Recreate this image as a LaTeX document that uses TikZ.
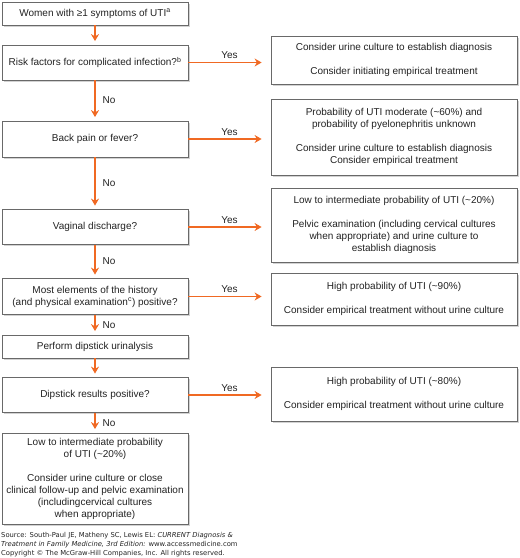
\documentclass[tikz,border=0pt]{standalone}
\usepackage{fontspec}
\setmainfont{Liberation Sans}
\newfontfamily\srcfont{DejaVu Sans}
\usetikzlibrary{arrows.meta,shadows}
\definecolor{arr}{RGB}{240,105,35}
\definecolor{bord}{RGB}{105,105,105}
\definecolor{txt}{RGB}{35,35,35}
\begin{document}
\begin{tikzpicture}[x=1pt,y=-1pt,
  box/.style={draw=bord, line width=0.8pt, fill=white, align=center, inner sep=0pt,
    font=\fontsize{10}{12}\selectfont, text=txt,
    drop shadow={shadow xshift=1.8pt, shadow yshift=-1.8pt, fill=gray!35, opacity=1}},
  lbox/.style={box, minimum width=186pt},
  rbox/.style={box, minimum width=246pt},
  flow/.style={draw=arr, line width=1.3pt, -{Stealth[length=7pt,width=8pt]}},
  lab/.style={font=\fontsize{10}{12}\selectfont, text=txt, inner sep=1pt}
]
\useasboundingbox (0,0) rectangle (520,558);

% left column
\node[lbox, minimum height=23pt] (L1) at (95,13.5) {Women with ≥1 symptoms of UTI\textsuperscript{a}};
\node[lbox, minimum height=35pt] (L2) at (95,62.5) {Risk factors for complicated infection?\textsuperscript{b}};
\node[lbox, minimum height=36pt] (L3) at (95,139) {Back pain or fever?};
\node[lbox, minimum height=35pt] (L4) at (95,227) {Vaginal discharge?};
\node[lbox, minimum height=36pt] (L5) at (95,296.5) {Most elements of the history\\(and physical examination\textsuperscript{c}) positive?};
\node[lbox, minimum height=23pt] (L6) at (95,346.5) {Perform dipstick urinalysis};
\node[lbox, minimum height=35pt] (L7) at (95,395) {Dipstick results positive?};
\node[lbox, minimum height=91pt] (L8) at (95,478.5) {Low to intermediate probability\\of UTI (\textasciitilde20\%)\\[12pt]Consider urine culture or close\\clinical follow-up and pelvic examination\\(includingcervical cultures\\when appropriate)};

% right column
\node[rbox, minimum height=48pt] (R1) at (394,60) {Consider urine culture to establish diagnosis\\[12pt]Consider initiating empirical treatment};
\node[rbox, minimum height=76pt] (R2) at (394,137) {Probability of UTI moderate (\textasciitilde60\%) and\\probability of pyelonephritis unknown\\[12pt]Consider urine culture to establish diagnosis\\Consider empirical treatment};
\node[rbox, minimum height=74pt] (R3) at (394,225) {Low to intermediate probability of UTI (\textasciitilde20\%)\\[12pt]Pelvic examination (including cervical cultures\\when appropriate) and urine culture to\\establish diagnosis};
\node[rbox, minimum height=52pt] (R4) at (394,299) {High probability of UTI (\textasciitilde90\%)\\[12pt]Consider empirical treatment without urine culture};
\node[rbox, minimum height=54pt] (R5) at (394,394) {High probability of UTI (\textasciitilde80\%)\\[12pt]Consider empirical treatment without urine culture};

% down arrows
\draw[flow, shorten >=3.5pt] (L1.south) -- (L2.north);
\draw[flow, shorten >=3.5pt] (L2.south) -- node[lab, right=6pt] {No} (L3.north);
\draw[flow, shorten >=3.5pt] (L3.south) -- node[lab, right=6pt] {No} (L4.north);
\draw[flow, shorten >=3.5pt] (L4.south) -- node[lab, right=6pt] {No} (L5.north);
\draw[flow, shorten >=3.5pt] (L5.south) -- node[lab, right=6pt] {No} (L6.north);
\draw[flow, shorten >=3.5pt] (L6.south) -- (L7.north);
\draw[flow, shorten >=3.5pt] (L7.south) -- node[lab, right=6pt] {No} (L8.north);

% yes arrows
\draw[flow, shorten >=9pt] (L2.east) -- node[lab, above=2pt] {Yes} (L2.east -| R1.west);
\draw[flow, shorten >=9pt] (L3.east) -- node[lab, above=2pt] {Yes} (L3.east -| R2.west);
\draw[flow, shorten >=9pt] (L4.east) -- node[lab, above=2pt] {Yes} (L4.east -| R3.west);
\draw[flow, shorten >=9pt] (L5.east) -- node[lab, above=2pt] {Yes} (L5.east -| R4.west);
\draw[flow, shorten >=9pt] (L7.east) -- node[lab, above=2pt] {Yes} (L7.east -| R5.west);

% source
\node[anchor=north west, inner sep=0pt, align=left, text=txt,
  font=\srcfont\fontsize{6.8}{8.8}\selectfont] (src) at (1,532.5)
 {Source: South-Paul JE, Matheny SC, Lewis EL: \textit{CURRENT Diagnosis \&}\\
  \textit{Treatment in Family Medicine, 3rd Edition:} www.accessmedicine.com\\
  Copyright © The McGraw-Hill Companies, Inc. All rights reserved.};
\end{tikzpicture}
\end{document}
